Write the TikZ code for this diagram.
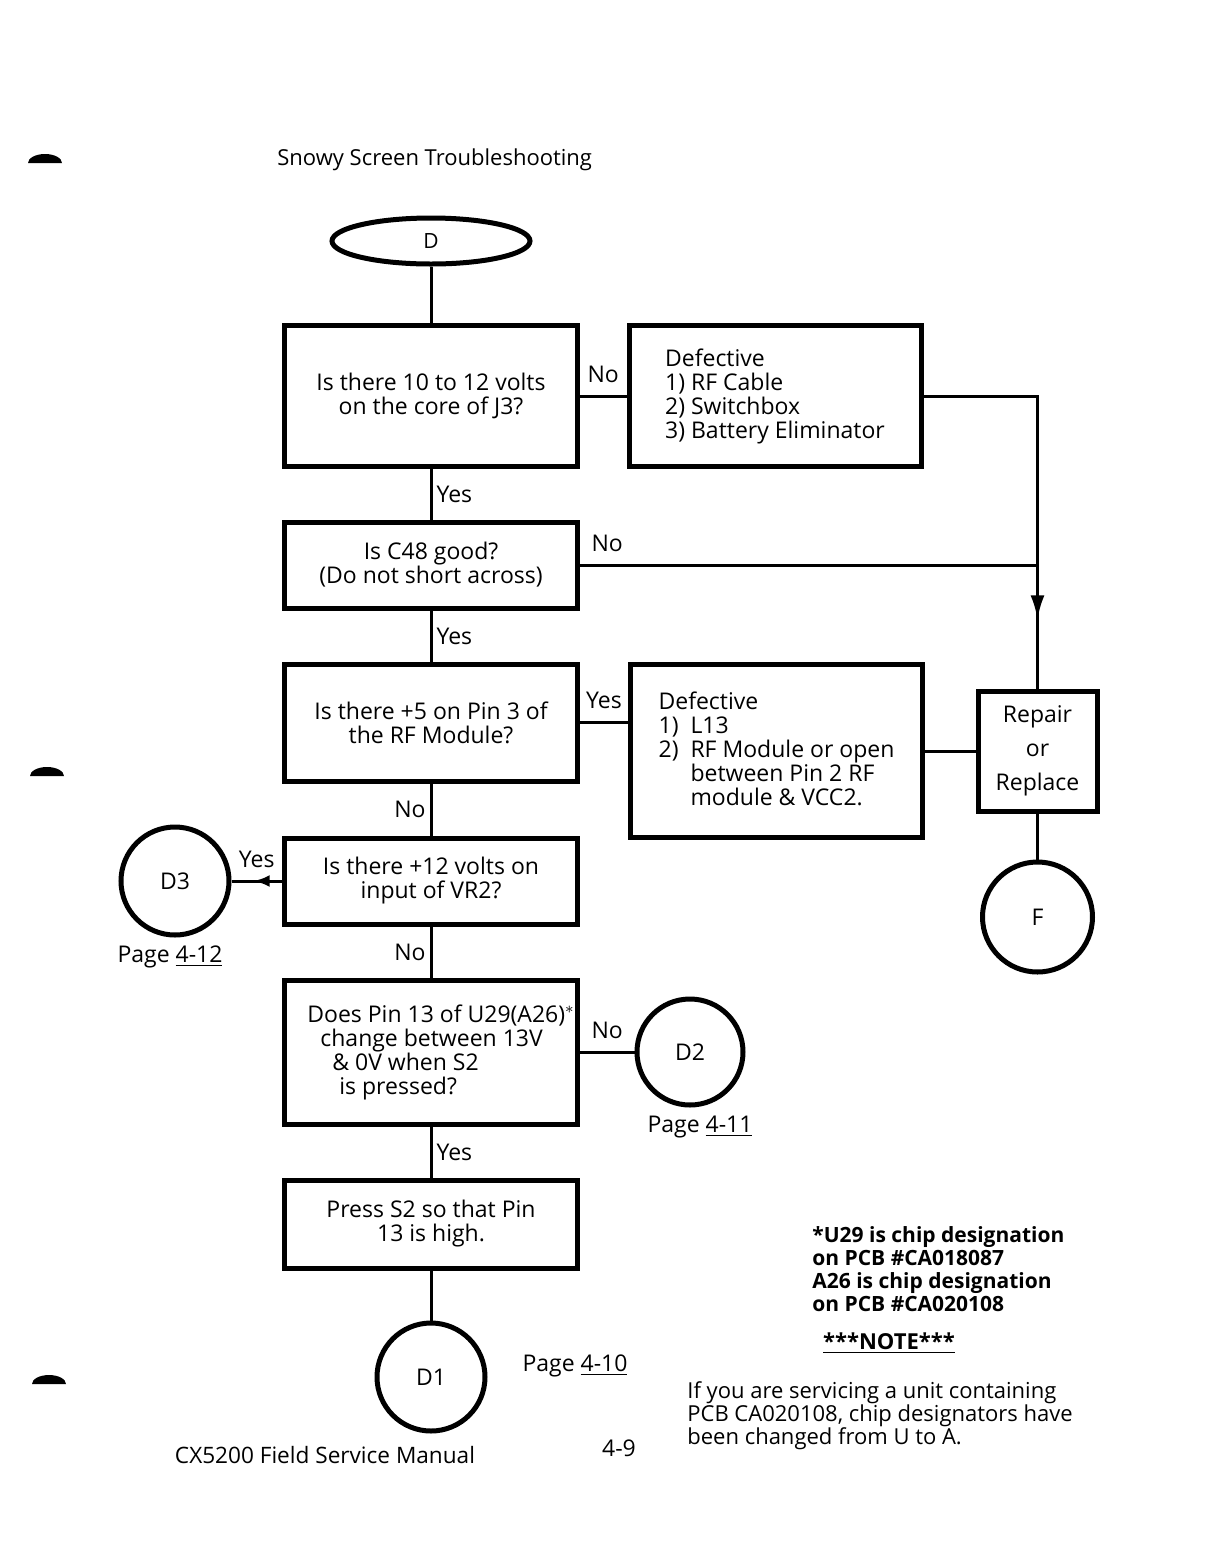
\documentclass[tikz,border=0pt]{standalone}
\usepackage{fontspec}
\setmainfont{Open Sans}
\usetikzlibrary{arrows.meta,shapes.geometric,decorations.markings}

\begin{document}
\begin{tikzpicture}[x=0.5pt, y=-0.5pt, >={Latex[length=12pt,width=7pt]},
    every node/.style={font=\fontsize{11.5}{12}\selectfont},
    qbox/.style={draw, line width=2.5pt, minimum width=146.5pt, align=center, inner sep=0pt},
    defbox/.style={draw, line width=2.5pt, minimum width=146pt, align=left, inner sep=0pt},
    conn/.style={circle, draw, line width=2.5pt, minimum size=54pt, inner sep=0pt},
    wire/.style={line width=1.5pt},
    midarrow/.style={postaction={decorate}, decoration={markings, mark=at position #1 with {\arrow{>}}}},
    lbl/.style={inner sep=2pt}]
	% Fix the page size
	\useasboundingbox (0,0) rectangle (1219,1565);
	
	% Binder holes of the scan
	\fill (28,163) arc[start angle=180, end angle=360, x radius=17, y radius=9] -- cycle;
	\fill (30,776) arc[start angle=180, end angle=360, x radius=17, y radius=9] -- cycle;
	\fill (32,1384) arc[start angle=180, end angle=360, x radius=17, y radius=9] -- cycle;
	
	% Title
	\node[anchor=west, inner sep=0pt, font=\fontsize{11}{12}\selectfont] (title) at (277,160) {Snowy Screen Troubleshooting};
	
	% Main column of questions
	\node[ellipse, draw, line width=2.5pt, minimum width=99pt, minimum height=23pt, inner sep=0pt, font=\fontsize{10.5}{12}\selectfont] (start) at (431,241) {D};
	\node[qbox, minimum height=70.5pt] (volts) at (431,396) {Is there 10 to 12 volts\\ on the core of J3?};
	\node[qbox, minimum height=43pt] (cap) at (431,565) {Is C48 good?\\ (Do not short across)};
	\node[qbox, minimum height=58.5pt] (pin3) at (431,722.5) {Is there +5 on Pin 3 of\\ the RF Module?};
	\node[qbox, minimum height=43pt] (vr2) at (431,881) {Is there +12 volts on\\ input of VR2?};
	\node[qbox, minimum height=72pt, align=left] (u29) at (431,1052) {\hspace*{10pt}Does Pin 13 of U29(A26)$^*$\\ \hspace*{16.5pt}change between 13V\\ \hspace*{22.5pt}\& 0V when S2\\ \hspace*{26pt}is pressed?};
	\node[qbox, minimum height=44pt] (press) at (431,1224) {Press S2 so that Pin\\ 13 is high.};
	\node[conn] (D1) at (431,1377) {D1};
	
	% Defects and repair
	\node[defbox, minimum height=70.5pt] (cable) at (775,396) {Defective\\ 1) RF Cable\\ 2) Switchbox\\ 3) Battery Eliminator};
	\node[defbox, minimum height=86.5pt] (module) at (776.5,751) {Defective\\ 1)\ \ L13\\ 2)\ \ RF Module or open\\ \phantom{2)\ \ }between Pin 2 RF\\ \phantom{2)\ \ }module \& VCC2.};
	\node[draw, line width=2.5pt, minimum width=59.5pt, minimum height=60pt, align=center, inner sep=0pt] (repair) at (1037.5,751) {Repair\\[5pt] or\\[5pt] Replace};
	\node[conn, minimum size=55pt] (F) at (1037.5,917) {F};
	
	% Off-page connectors
	\node[conn] (D3) at (175,881) {D3};
	\node[conn, minimum size=53pt] (D2) at (690,1052) {D2};
	\node (pg12) at (170,957) {Page \underline{4-12}};
	\node (pg11) at (700,1127) {Page \underline{4-11}};
	\node (pg10) at (575,1366) {Page \underline{4-10}};
	
	% Draw the connecting lines
	\draw[wire] (start) -- (volts);
	\draw[wire] (volts) -- node[above=4pt, lbl] {No} (cable);
	\draw[wire] (cable.east) -| (repair.north);
	\draw[wire] (volts) -- node[right, lbl] {Yes} (cap);
	\coordinate (join) at (cap.east -| repair.north);
	\draw[wire] (cap.east) -- node[pos=0, anchor=south west, xshift=3pt, yshift=4pt, lbl] {No} (join);
	\draw[wire, midarrow=0.44] (join) -- (repair.north);
	\draw[wire] (cap) -- node[right, lbl] {Yes} (pin3);
	\draw[wire] (pin3.east) -- node[above=4pt, lbl] {Yes} (pin3.east -| module.west);
	\draw[wire] (module) -- (repair);
	\draw[wire] (repair) -- (F);
	\draw[wire] (pin3) -- node[left, lbl] {No} (vr2);
	\draw[wire, midarrow=0.56, >={Latex[length=8pt,width=6pt]}] (vr2) -- node[above=4pt, lbl] {Yes} (D3);
	\draw[wire] (vr2) -- node[left, lbl] {No} (u29);
	\draw[wire] (u29) -- node[above=4pt, lbl] {No} (D2);
	\draw[wire] (u29) -- node[right, lbl] {Yes} (press);
	\draw[wire] (press) -- (D1);
	
	% Chip note
	\node[anchor=north west, inner sep=0pt, align=left, font=\fontsize{10.5}{11.5}\selectfont\bfseries] (chipnote) at (812,1226) {*U29 is chip designation\\ on PCB \#CA018087\\ A26 is chip designation\\ on PCB \#CA020108};
	\node[font=\fontsize{11}{12}\selectfont\bfseries] (notehead) at (889,1343) {\underline{***NOTE***}};
	\node[anchor=north west, inner sep=0pt, align=left, font=\fontsize{11}{11.5}\selectfont] (notetext) at (687,1381) {If you are servicing a unit containing\\ PCB CA020108, chip designators have\\ been changed from U to A.};
	
	% Footer
	\node[font=\fontsize{11.3}{13}\selectfont] (footer) at (325,1455) {CX5200 Field Service Manual};
	\node (pageno) at (619,1448) {4-9};
\end{tikzpicture}
\end{document}
